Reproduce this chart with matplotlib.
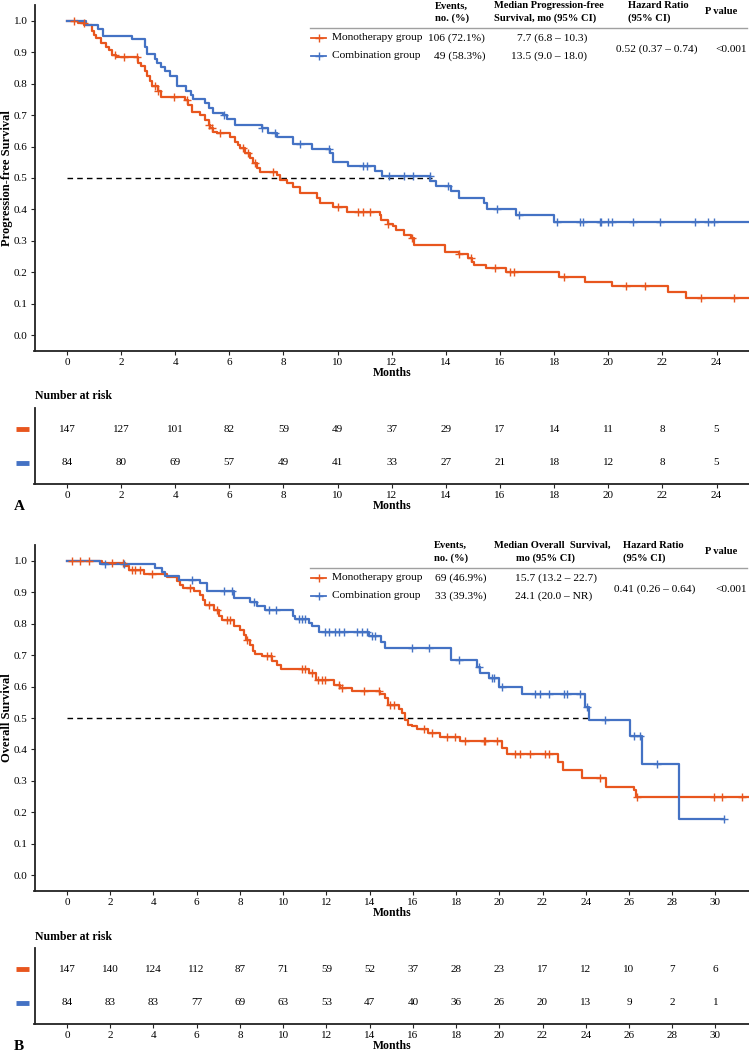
import numpy as np
import matplotlib
matplotlib.use('Agg')
import matplotlib.pyplot as plt
from matplotlib.lines import Line2D

plt.rcParams['font.family'] = ['Liberation Serif', 'DejaVu Serif']

ORANGE = '#E8561E'
BLUE = '#4472C4'

# ---------------- Panel A: Progression-free survival ----------------
pfs_mono_t = [0.42, 0.63, 0.91, 1.00, 1.07, 1.24, 1.43, 1.56, 1.66, 1.81, 2.63, 2.75, 2.88, 2.97, 3.06, 3.15,
              3.38, 3.49, 4.37, 4.49, 4.61, 4.92, 5.10, 5.23, 5.29, 5.41, 5.54, 6.03, 6.21, 6.33, 6.40, 6.58,
              6.77, 6.89, 7.01, 7.13, 7.75, 7.87, 8.12, 8.36, 8.61, 9.23, 9.35, 9.84, 10.33, 11.56, 11.61,
              11.86, 12.04, 12.16, 12.47, 12.72, 12.84, 13.98, 14.47, 14.81, 14.97, 15.05, 15.49, 16.22,
              18.19, 19.15, 20.13, 22.21, 22.89]
pfs_mono_s = [0.993, 0.987, 0.966, 0.955, 0.945, 0.929, 0.918, 0.908, 0.892, 0.884, 0.867, 0.855, 0.839, 0.823,
              0.807, 0.793, 0.775, 0.757, 0.747, 0.731, 0.710, 0.700, 0.684, 0.668, 0.658, 0.647, 0.642, 0.631,
              0.615, 0.605, 0.594, 0.579, 0.563, 0.547, 0.531, 0.520, 0.510, 0.494, 0.483, 0.472, 0.453, 0.438,
              0.419, 0.408, 0.392, 0.382, 0.366, 0.354, 0.346, 0.335, 0.319, 0.308, 0.287, 0.266, 0.258, 0.245,
              0.234, 0.224, 0.213, 0.200, 0.185, 0.170, 0.156, 0.137, 0.118]
pfs_mono_cens = [0.26, 0.62, 1.78, 2.09, 2.58, 3.26, 3.38, 3.94, 4.43, 5.23, 5.35, 5.66, 6.52, 6.70, 6.95,
                 7.63, 10.02, 10.76, 10.95, 11.19, 11.86, 12.75, 14.47, 14.93, 15.83, 16.36, 16.52, 18.35,
                 20.65, 21.36, 23.44, 24.64]
pfs_mono_end = 25.4

pfs_comb_t = [0.70, 1.13, 1.32, 2.39, 2.88, 2.95, 3.25, 3.32, 3.49, 3.62, 3.80, 4.05, 4.39, 4.60, 4.67,
              5.10, 5.23, 5.41, 5.78, 5.90, 6.21, 7.20, 7.44, 7.75, 8.36, 9.04, 9.72, 9.84, 10.39, 11.37,
              11.65, 13.43, 13.62, 14.19, 14.50, 15.40, 15.51, 16.59, 18.01]
pfs_comb_s = [0.987, 0.975, 0.953, 0.943, 0.918, 0.894, 0.878, 0.865, 0.853, 0.839, 0.823, 0.791, 0.778,
              0.764, 0.750, 0.737, 0.722, 0.706, 0.700, 0.687, 0.669, 0.658, 0.642, 0.630, 0.609, 0.592,
              0.579, 0.552, 0.539, 0.523, 0.506, 0.490, 0.475, 0.459, 0.437, 0.419, 0.403, 0.382, 0.360]
pfs_comb_cens = [5.80, 7.20, 7.69, 8.61, 9.69, 10.95, 11.07, 11.89, 12.47, 12.78, 13.40, 14.07, 15.88, 16.69,
                 18.10, 18.96, 19.05, 19.70, 19.75, 19.98, 20.12, 20.90, 21.91, 23.20, 23.69, 23.91]
pfs_comb_end = 25.4

pfs_ticks = list(range(0, 25, 2))
pfs_risk_mono = [147, 127, 101, 82, 59, 49, 37, 29, 17, 14, 11, 8, 5]
pfs_risk_comb = [84, 80, 69, 57, 49, 41, 33, 27, 21, 18, 12, 8, 5]
pfs_median_comb = 13.5

pfs_table = {
    'events': ['106 (72.1%)', '49 (58.3%)'],
    'median': ['7.7 (6.8 \u2013 10.3)', '13.5 (9.0 \u2013 18.0)'],
    'hr': '0.52 (0.37 \u2013 0.74)',
    'p': '<0.001',
}

# ---------------- Panel B: Overall survival ----------------
os_mono_t = [1.62, 2.70, 2.85, 3.55, 4.63, 5.09, 5.25, 5.37, 5.86, 6.17, 6.30, 6.40, 6.79, 7.02, 7.18, 7.72,
             8.02, 8.18, 8.30, 8.49, 8.60, 8.72, 9.03, 9.49, 9.72, 9.88, 11.19, 11.50, 12.35, 12.65, 13.19,
             14.49, 14.72, 14.83, 15.34, 15.52, 15.65, 15.76, 15.96, 16.19, 16.68, 17.27, 18.19, 20.12,
             20.35, 22.72, 22.95, 23.83, 24.95, 26.22, 26.30]
os_mono_s = [0.993, 0.982, 0.971, 0.959, 0.948, 0.937, 0.924, 0.913, 0.903, 0.892, 0.876, 0.860, 0.844,
             0.823, 0.813, 0.793, 0.781, 0.765, 0.749, 0.733, 0.712, 0.704, 0.696, 0.680, 0.670, 0.656,
             0.643, 0.622, 0.606, 0.595, 0.585, 0.575, 0.564, 0.540, 0.529, 0.516, 0.495, 0.479, 0.474,
             0.465, 0.452, 0.440, 0.426, 0.405, 0.387, 0.360, 0.335, 0.308, 0.282, 0.271, 0.250]
os_mono_cens = [0.23, 0.62, 1.00, 2.08, 2.59, 3.01, 3.16, 3.40, 3.94, 5.71, 6.56, 6.94, 7.41, 7.56, 8.33,
                9.26, 9.44, 10.88, 11.03, 11.34, 11.62, 11.78, 11.93, 12.58, 12.73, 13.73, 14.45, 14.95,
                15.11, 16.50, 16.88, 17.60, 17.96, 18.42, 19.27, 19.35, 19.89, 20.74, 20.97, 21.44, 22.13,
                22.29, 24.68, 26.37, 29.95, 30.31, 31.23]
os_mono_end = 31.6

os_comb_t = [1.54, 4.09, 4.40, 4.52, 5.17, 6.17, 6.48, 7.72, 8.49, 8.80, 9.18, 10.46, 10.57, 11.19, 11.34,
             11.65, 13.97, 14.52, 14.72, 17.76, 18.99, 19.09, 19.51, 19.97, 21.05, 23.95, 24.13, 26.06,
             26.60, 28.30]
os_comb_s = [0.989, 0.977, 0.963, 0.952, 0.940, 0.929, 0.905, 0.882, 0.868, 0.855, 0.842, 0.823, 0.815,
             0.802, 0.792, 0.773, 0.762, 0.741, 0.721, 0.684, 0.662, 0.643, 0.627, 0.599, 0.575, 0.535,
             0.494, 0.443, 0.354, 0.178]
os_comb_cens = [1.77, 2.62, 5.79, 7.25, 7.64, 8.64, 9.34, 9.65, 10.73, 10.88, 11.03, 11.96, 12.11, 12.42,
                12.58, 12.81, 13.43, 13.66, 13.89, 14.12, 14.27, 15.96, 16.73, 18.12, 19.05, 19.66, 19.77,
                20.12, 21.67, 21.90, 22.28, 23.01, 23.13, 23.75, 24.06, 24.91, 26.22, 26.53, 27.30, 30.41]
os_comb_end = 30.41

os_ticks = list(range(0, 31, 2))
os_risk_mono = [147, 140, 124, 112, 87, 71, 59, 52, 37, 28, 23, 17, 12, 10, 7, 6]
os_risk_comb = [84, 83, 83, 77, 69, 63, 53, 47, 40, 36, 26, 20, 13, 9, 2, 1]
os_median_comb = 24.1

os_table = {
    'events': ['69 (46.9%)', '33 (39.3%)'],
    'median': ['15.7 (13.2 \u2013 22.7)', '24.1 (20.0 \u2013 NR)'],
    'hr': '0.41 (0.26 \u2013 0.64)',
    'p': '<0.001',
}

groups = ['Monotherapy group', 'Combination group']

# ---------------- Figure ----------------
W, H = 749, 1053
fig = plt.figure(figsize=(W / 100, H / 100), dpi=100)


def fx(px):
    return px / W


def fy(py):
    return 1 - py / H


LEFT = 34.5
SPINE_C = '#222222'


def add_ax(top, bottom):
    return fig.add_axes([fx(LEFT), fy(bottom), 1 - fx(LEFT), (bottom - top) / H])


def style(ax, xlim, ticks):
    for s in ['top', 'right']:
        ax.spines[s].set_visible(False)
    for s in ['left', 'bottom']:
        ax.spines[s].set_linewidth(1.3)
        ax.spines[s].set_color(SPINE_C)
    ax.set_xlim(*xlim)
    ax.set_xticks(ticks)
    ax.tick_params(axis='both', labelsize=8, length=3, width=0.8, pad=2, color=SPINE_C)
    ax.set_xlabel('Months', fontsize=8.5, fontweight='bold', labelpad=0)


def km(ax, t, s, cens, end, color):
    t = np.asarray(t)
    s = np.asarray(s)
    xs = np.concatenate([[0.0], t, [end]])
    ys = np.concatenate([[1.0], s, [s[-1]]])
    ax.plot(xs, ys, drawstyle='steps-post', color=color, lw=1.6, zorder=3)
    lev = np.concatenate([[1.0], s])
    idx = np.searchsorted(t, np.asarray(cens), side='right')
    ax.plot(cens, lev[idx], ls='none', marker='+', ms=6, mew=1.0, color=color, zorder=4)


def main_panel(top, bottom, xlim, ticks, ylabel, mono, comb, median):
    ax = add_ax(top, bottom)
    style(ax, xlim, ticks)
    ax.set_ylim(-0.05, 1.05)
    ax.set_yticks(np.arange(0, 1.01, 0.1))
    ax.set_yticklabels([f'{v:.1f}' for v in np.arange(0, 1.01, 0.1)])
    ax.set_ylabel(ylabel, fontsize=9, fontweight='bold', va='center', ha='center')
    ax.yaxis.set_label_coords((7.5 - LEFT) / (W - LEFT), 0.5)
    ax.plot([0, median], [0.5, 0.5], ls=(0, (4, 3)), color='black', lw=1.0, zorder=2)
    km(ax, *mono, ORANGE)
    km(ax, *comb, BLUE)
    return ax


def risk_panel(top, bottom, xlim, ticks, r_mono, r_comb, title_y):
    ax = add_ax(top, bottom)
    style(ax, xlim, ticks)
    ax.set_ylim(-0.62, 1.62)
    ax.set_yticks([])
    for x, v in zip(ticks, r_mono):
        ax.text(x, 1, str(v), ha='center', va='center', fontsize=8)
    for x, v in zip(ticks, r_comb):
        ax.text(x, 0, str(v), ha='center', va='center', fontsize=8)
    fig.text(fx(35), fy(title_y), 'Number at risk', fontsize=8.5, fontweight='bold',
             ha='left', va='center')
    # colour keys
    for row, c in [(1, ORANGE), (0, BLUE)]:
        ydisp = ax.transData.transform((0, row))[1]
        yfig = ydisp / (H)
        fig.add_artist(Line2D([fx(16), fx(29)], [yfig, yfig], color=c, lw=3.5,
                              solid_capstyle='butt'))
    return ax


def legend_table(headers, tab, line_y, row_ys, p_y, aligns):
    for (x, y, txt, ha) in headers:
        fig.text(fx(x), fy(y), txt, fontsize=7.6, fontweight='bold', ha=ha, va='center')
    fig.add_artist(Line2D([fx(310), fx(747)], [fy(line_y), fy(line_y)], color='#A0A0A0', lw=1.0))
    for i, (g, c) in enumerate(zip(groups, [ORANGE, BLUE])):
        y = row_ys[i]
        fig.add_artist(Line2D([fx(311), fx(318.5), fx(326)], [fy(y)] * 3, color=c, lw=1.3,
                              marker='+', markevery=[1], ms=6, mew=1.0))
        fig.text(fx(332), fy(y), g, fontsize=8.2, ha='left', va='center')
        ex, eha = aligns['events']
        fig.text(fx(ex), fy(y), tab['events'][i], fontsize=8.2, ha=eha, va='center')
        mx, mha = aligns['median']
        fig.text(fx(mx), fy(y), tab['median'][i], fontsize=8.2, ha=mha, va='center')
    fig.text(fx(aligns['hr']), fy(p_y), tab['hr'], fontsize=8.2, ha='left', va='center')
    fig.text(fx(747), fy(p_y), tab['p'], fontsize=8.2, ha='right', va='center')


# Panel A
axA = main_panel(5, 351, (-1.2, 25.2), pfs_ticks, 'Progression-free Survival',
                 (pfs_mono_t, pfs_mono_s, pfs_mono_cens, pfs_mono_end),
                 (pfs_comb_t, pfs_comb_s, pfs_comb_cens, pfs_comb_end), pfs_median_comb)
risk_panel(408, 484, (-1.2, 25.2), pfs_ticks, pfs_risk_mono, pfs_risk_comb, 396)
fig.text(fx(14), fy(506), 'A', fontsize=11, fontweight='bold', ha='left', va='center')

legend_table([(435, 6, 'Events,', 'left'), (435, 18, 'no. (%)', 'left'),
              (494, 6, 'Median Progression-free', 'left'), (494, 18, 'Survival, mo (95% CI)', 'left'),
              (628, 6, 'Hazard Ratio', 'left'), (628, 18, '(95% CI)', 'left'),
              (705, 11, 'P value', 'left')],
             pfs_table, 28, [38, 56], 49,
             {'events': (485, 'right'), 'median': (587, 'right'), 'hr': 616})

# Panel B
axB = main_panel(545, 891, (-1.5, 31.55), os_ticks, 'Overall Survival',
                 (os_mono_t, os_mono_s, os_mono_cens, os_mono_end),
                 (os_comb_t, os_comb_s, os_comb_cens, os_comb_end), os_median_comb)
risk_panel(948, 1024, (-1.5, 31.55), os_ticks, os_risk_mono, os_risk_comb, 937)
fig.text(fx(14), fy(1046), 'B', fontsize=11, fontweight='bold', ha='left', va='center')

legend_table([(434, 545, 'Events,', 'left'), (434, 558, 'no. (%)', 'left'),
              (494, 545, 'Median Overall  Survival,', 'left'), (546, 558, 'mo (95% CI)', 'center'),
              (623, 545, 'Hazard Ratio', 'left'), (623, 558, '(95% CI)', 'left'),
              (705, 552, 'P value', 'left')],
             os_table, 568, [578, 596], 589,
             {'events': (435, 'left'), 'median': (515, 'left'), 'hr': 614})

fig.savefig('out.png', dpi=100)
